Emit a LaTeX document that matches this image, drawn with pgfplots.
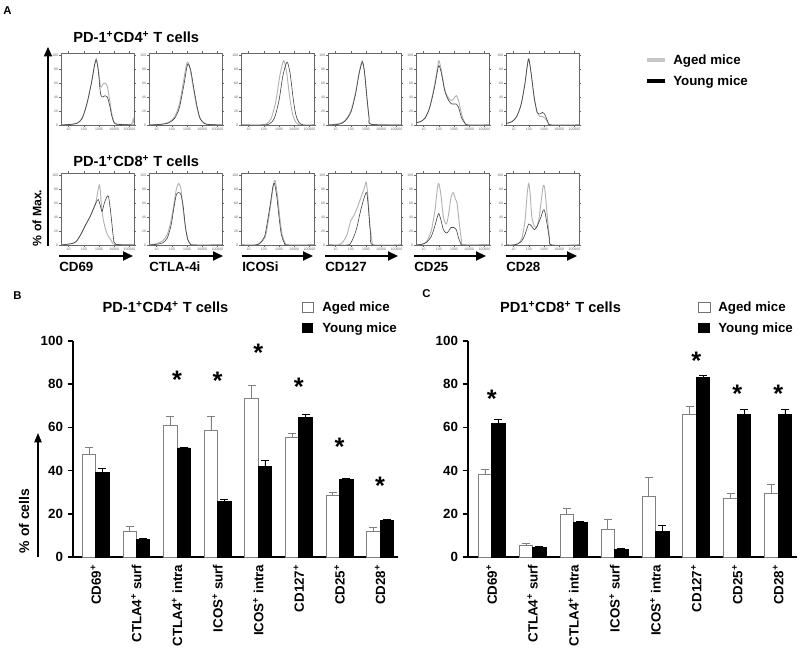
\documentclass[border=0pt]{standalone}
\usepackage{pgfplots}
\pgfplotsset{compat=1.18}
\usepackage{pgfplotstable}
\usepackage{fontspec}
\setmainfont{Liberation Sans}
\usetikzlibrary{arrows.meta}

\tikzset{sstar/.style={anchor=north, inner sep=0pt, font=\fontsize{19}{19}\selectfont\bfseries}}

\pgfplotsset{
  hist/.style={
    scale only axis, width=54.75pt, height=54pt, anchor=south west,
    xmin=0.5, xmax=5.3, ymin=0, ymax=103,
    axis line style={draw=black!60, line width=0.5pt},
    xtick={1,2,3,4,5}, xticklabels={10,100,1000,10000,100000},
    ytick={0,20,40,60,80,100},
    tick style={black!60, line width=0.3pt},
    major tick length=1.5pt, tick align=outside,
    tick label style={font=\fontsize{2.6}{3}\selectfont, text=black!60, inner sep=0.5pt},
    /pgf/number format/assume math mode=true,
    every axis plot/.append style={no marks, smooth, tension=0.45},
  },
  aged/.style={gray!60, line width=0.7pt},
  young/.style={black!75, line width=0.45pt},
  bars/.style={
    scale only axis, anchor=south west, height=162pt,
    ymin=0, ymax=100,
    axis x line*=bottom, axis y line*=left,
    axis line style={line width=1.5pt},
    xtick={0,...,7},
    xticklabels={CD69\textsuperscript{+},CTLA4\textsuperscript{+} surf,CTLA4\textsuperscript{+} intra,ICOS\textsuperscript{+} surf,ICOS\textsuperscript{+} intra,CD127\textsuperscript{+},CD25\textsuperscript{+},CD28\textsuperscript{+}},
    x tick label style={rotate=90, anchor=east, font=\fontsize{10}{12}\selectfont\bfseries, inner sep=1.5pt},
    major x tick style={draw=none},
    ytick={0,20,...,100},
    y tick label style={font=\fontsize{10}{12}\selectfont\bfseries},
    /pgf/number format/assume math mode=true,
    major y tick style={line width=1.3pt, black}, major tick length=4pt, tick align=outside,
    clip=false,
  },
  agedbar/.style={ybar, bar width=0.33, bar shift=0, fill=white, draw=black!50, line width=0.6pt,
    error bars/.cd, y dir=plus, y explicit,
    error bar style={black!50, line width=0.6pt},
    error mark options={rotate=90, black!50, mark size=3pt, line width=0.6pt}},
  youngbar/.style={ybar, bar width=0.33, bar shift=0, fill=black, draw=black, line width=0.6pt,
    error bars/.cd, y dir=plus, y explicit,
    error bar style={black, line width=0.6pt},
    error mark options={rotate=90, black, mark size=3pt, line width=0.6pt}},
}

\pgfplotstableread{
x a ae y ye
0 47.4 3.2 39.0 2.0
1 11.7 2.3 8.0 0.5
2 61.0 4.1 50.5 0.4
3 58.6 6.4 25.6 1.1
4 73.3 6.3 42.0 2.8
5 55.4 1.7 64.7 1.2
6 28.7 1.2 36.0 0.2
7 12.0 1.6 17.0 0.6
}\dataB

\pgfplotstableread{
x a ae y ye
0 38.1 2.3 61.7 1.9
1 5.2 1.0 4.6 0.3
2 19.6 2.8 16.0 0.4
3 12.8 4.5 3.7 0.2
4 27.9 9.1 12.0 2.5
5 65.9 3.7 83.0 1.0
6 27.0 2.3 66.2 2.0
7 29.3 4.3 66.2 2.0
}\dataC

\begin{document}
\begin{tikzpicture}[x=0.75pt,y=0.75pt]
\useasboundingbox (0,0) rectangle (800,649);

% ---------- Panel A ----------
\node[anchor=base west, inner sep=0pt, font=\fontsize{8.5}{10}\selectfont\bfseries] at (3,649-15) {A};
\node[anchor=base west, inner sep=0pt, font=\fontsize{11}{13}\selectfont\bfseries] at (73,649-43) {PD-1\textsuperscript{+}CD4\textsuperscript{+} T cells};
\node[anchor=base west, inner sep=0pt, font=\fontsize{11}{13}\selectfont\bfseries] at (73,649-167) {PD-1\textsuperscript{+}CD8\textsuperscript{+} T cells};

% top row: CD4
\begin{axis}[hist, at={(45.75pt,393pt)}]
\addplot[aged] coordinates {(0.5,0)(1.2,1)(1.6,3)(1.9,10)(2.2,30)(2.5,60)(2.7,85)(2.82,95)(2.95,80)(3.1,55)(3.25,58)(3.4,60)(3.55,55)(3.7,35)(3.85,15)(4.0,4)(4.2,1)(5.1,1)(5.25,9)(5.3,2)};
\addplot[young] coordinates {(0.5,0)(1.2,1)(1.6,3)(1.9,10)(2.2,30)(2.5,60)(2.7,85)(2.82,93)(2.95,78)(3.1,45)(3.25,40)(3.4,42)(3.55,40)(3.7,28)(3.85,12)(4.0,3)(4.2,1)(5.3,0)};
\end{axis}
\begin{axis}[hist, at={(111.75pt,393pt)}]
\addplot[aged] coordinates {(0.5,0)(1.3,1)(1.8,4)(2.2,12)(2.5,30)(2.75,60)(2.95,85)(3.05,90)(3.2,80)(3.4,55)(3.6,30)(3.8,12)(4.0,5)(4.3,1)(5.3,0)};
\addplot[young] coordinates {(0.5,0)(1.3,1)(1.8,3)(2.2,10)(2.5,25)(2.8,58)(3.0,84)(3.1,87)(3.25,78)(3.45,52)(3.65,28)(3.85,10)(4.05,4)(4.3,1)(5.3,0)};
\end{axis}
\begin{axis}[hist, at={(180.75pt,393pt)}]
\addplot[aged] coordinates {(0.5,0)(1.8,0)(2.2,2)(2.5,10)(2.8,35)(3.05,70)(3.3,92)(3.5,75)(3.7,40)(3.9,15)(4.1,4)(4.4,0)(5.3,0)};
\addplot[young] coordinates {(0.5,0)(2.0,0)(2.4,2)(2.7,10)(3.0,35)(3.25,70)(3.52,90)(3.72,75)(3.92,40)(4.1,15)(4.3,4)(4.6,0)(5.3,0)};
\end{axis}
\begin{axis}[hist, at={(246pt,393pt)}]
\addplot[aged] coordinates {(0.5,0)(1.2,2)(1.6,6)(2.0,20)(2.3,45)(2.55,75)(2.75,92)(2.9,75)(3.05,40)(3.2,10)(3.35,1)(5.3,0)};
\addplot[young] coordinates {(0.5,0)(1.2,1)(1.6,5)(2.0,18)(2.3,43)(2.55,74)(2.76,90)(2.9,76)(3.05,42)(3.2,11)(3.35,1)(5.3,0)};
\end{axis}
\begin{axis}[hist, at={(312pt,393pt)}]
\addplot[aged] coordinates {(0.5,3)(0.8,5)(1.1,10)(1.4,25)(1.7,55)(1.9,80)(2.0,92)(2.15,80)(2.4,50)(2.65,38)(2.85,35)(3.0,38)(3.15,42)(3.3,35)(3.5,15)(3.7,4)(3.9,0)(5.3,0)};
\addplot[young] coordinates {(0.5,3)(0.8,5)(1.1,10)(1.4,25)(1.7,52)(1.9,76)(2.0,85)(2.15,76)(2.4,48)(2.65,35)(2.85,30)(3.0,30)(3.15,30)(3.3,25)(3.5,10)(3.7,3)(3.9,0)(5.3,0)};
\end{axis}
\begin{axis}[hist, at={(379.5pt,393pt)}]
\addplot[aged] coordinates {(0.5,2)(0.9,5)(1.2,12)(1.5,30)(1.75,60)(1.9,85)(2.0,95)(2.15,75)(2.35,40)(2.55,18)(2.75,12)(2.9,12)(3.05,10)(3.25,4)(3.45,0)(5.3,0)};
\addplot[young] coordinates {(0.5,2)(0.9,5)(1.2,12)(1.5,30)(1.75,60)(1.9,85)(2.0,94)(2.15,74)(2.35,40)(2.55,18)(2.75,16)(2.9,18)(3.05,15)(3.25,5)(3.45,0)(5.3,0)};
\end{axis}

% bottom row: CD8
\begin{axis}[hist, at={(45.75pt,303pt)}]
\addplot[aged] coordinates {(0.5,0)(1.2,2)(1.5,5)(1.8,15)(2.1,28)(2.4,40)(2.6,50)(2.8,62)(2.95,80)(3.05,85)(3.15,60)(3.25,40)(3.4,25)(3.55,15)(3.7,10)(3.85,5)(4.0,1)(5.3,0)};
\addplot[young] coordinates {(0.5,0)(1.2,2)(1.5,5)(1.8,15)(2.1,28)(2.4,40)(2.6,50)(2.8,60)(2.95,65)(3.1,55)(3.2,48)(3.35,60)(3.5,68)(3.62,70)(3.75,50)(3.85,30)(3.95,10)(4.1,1)(5.3,0)};
\end{axis}
\begin{axis}[hist, at={(111.75pt,303pt)}]
\addplot[aged] coordinates {(0.5,0)(1.0,2)(1.4,6)(1.7,15)(1.95,35)(2.15,60)(2.3,80)(2.45,88)(2.6,80)(2.75,50)(2.9,25)(3.05,8)(3.2,2)(3.4,0)(5.3,0)};
\addplot[young] coordinates {(0.5,0)(1.0,1)(1.4,3)(1.7,10)(1.95,28)(2.15,55)(2.3,72)(2.45,75)(2.6,72)(2.75,55)(2.9,25)(3.05,8)(3.2,2)(3.4,0)(5.3,0)};
\end{axis}
\begin{axis}[hist, at={(180.75pt,303pt)}]
\addplot[aged] coordinates {(0.5,0)(1.5,0)(1.8,3)(2.1,12)(2.3,35)(2.5,65)(2.65,88)(2.75,92)(2.9,70)(3.05,40)(3.2,15)(3.4,3)(3.6,0)(5.3,0)};
\addplot[young] coordinates {(0.5,0)(1.45,0)(1.75,3)(2.05,12)(2.25,35)(2.45,62)(2.6,84)(2.7,88)(2.85,70)(3.0,40)(3.15,15)(3.35,3)(3.55,0)(5.3,0)};
\end{axis}
\begin{axis}[hist, at={(246pt,303pt)}]
\addplot[aged] coordinates {(0.5,0)(1.2,0)(1.5,5)(1.75,15)(2.0,35)(2.2,42)(2.45,55)(2.7,70)(2.9,82)(3.0,90)(3.1,75)(3.25,30)(3.4,5)(3.55,0)(5.3,0)};
\addplot[young] coordinates {(0.5,0)(1.8,0)(2.0,3)(2.2,12)(2.4,25)(2.6,45)(2.8,62)(2.95,72)(3.05,75)(3.15,55)(3.3,15)(3.45,0)(5.3,0)};
\end{axis}
\begin{axis}[hist, at={(312pt,303pt)}]
\addplot[aged] coordinates {(0.5,0)(0.9,1)(1.2,5)(1.5,20)(1.75,50)(1.9,80)(2.0,88)(2.15,70)(2.3,40)(2.5,30)(2.65,45)(2.8,68)(2.95,75)(3.1,65)(3.2,60)(3.35,30)(3.5,5)(3.6,0)(5.3,0)};
\addplot[young] coordinates {(0.5,0)(0.9,1)(1.2,4)(1.5,12)(1.75,28)(1.9,40)(2.0,45)(2.15,35)(2.3,22)(2.5,17)(2.65,20)(2.8,25)(3.0,25)(3.15,22)(3.3,10)(3.45,2)(3.6,0)(5.3,0)};
\end{axis}
\begin{axis}[hist, at={(379.5pt,303pt)}]
\addplot[aged] coordinates {(0.5,0)(1.0,0)(1.3,2)(1.55,10)(1.75,35)(1.9,75)(2.0,88)(2.1,70)(2.2,40)(2.35,28)(2.5,25)(2.65,35)(2.8,60)(2.95,85)(3.05,80)(3.2,45)(3.35,12)(3.5,0)(5.3,0)};
\addplot[young] coordinates {(0.5,0)(1.0,0)(1.3,2)(1.55,6)(1.75,15)(1.9,25)(2.0,30)(2.15,28)(2.35,22)(2.5,25)(2.65,32)(2.8,40)(2.95,50)(3.05,48)(3.2,30)(3.35,10)(3.5,0)(5.3,0)};
\end{axis}

% arrows and labels under histograms
\foreach \xa/\xb/\lab in {59/133/CD69,149/223/CTLA-4i,242/313/ICOSi,325/398/CD127,414/486/CD25,506/577/CD28}{
  \draw[line width=1.5pt, -{Triangle[length=7.5pt,width=6.75pt]}] (\xa,649-256) -- (\xb,649-256);
  \node[anchor=base west, inner sep=0pt, font=\fontsize{10}{12}\selectfont\bfseries] at (\xa,649-272) {\lab};
}
\draw[line width=1.1pt, -{Triangle[length=7pt,width=6pt]}] (48,649-246) -- (48,649-47);
\node[rotate=90, inner sep=0pt, font=\fontsize{9.2}{11}\selectfont\bfseries] at (37,649-218) {\% of Max.};

% legend A
\draw[gray!45, line width=2.5pt] (647,649-60) -- (665,649-60);
\draw[black, line width=2.5pt] (647,649-81) -- (665,649-81);
\node[anchor=base west, inner sep=0pt, font=\fontsize{10}{12}\selectfont\bfseries] at (673,649-65) {Aged mice};
\node[anchor=base west, inner sep=0pt, font=\fontsize{10}{12}\selectfont\bfseries] at (673,649-86) {Young mice};

% ---------- Panel B ----------
\node[anchor=base west, inner sep=0pt, font=\fontsize{8.5}{10}\selectfont\bfseries] at (13,649-300) {B};
\node[anchor=base, inner sep=0pt, font=\fontsize{11}{13}\selectfont\bfseries] at (165.5,649-313) {PD-1\textsuperscript{+}CD4\textsuperscript{+} T cells};
\begin{axis}[bars, at={(54.75pt,69pt)}, width=243.75pt, xmin=-0.56, xmax=7.44]
\addplot[agedbar] table[x expr=\thisrow{x}-0.165, y=a, y error=ae]{\dataB};
\addplot[youngbar] table[x expr=\thisrow{x}+0.165, y=y, y error=ye]{\dataB};
\node[sstar] at (axis cs:2,86.4) {*};
\node[sstar] at (axis cs:3,85.6) {*};
\node[sstar] at (axis cs:4,98.8) {*};
\node[sstar] at (axis cs:5,82.9) {*};
\node[sstar] at (axis cs:6,55.1) {*};
\node[sstar] at (axis cs:7,37.0) {*};
\end{axis}
\draw[line width=0.8pt, -{Triangle[length=7pt,width=5.5pt]}] (38,649-557) -- (38,649-433);
\node[rotate=90, inner sep=0pt, font=\fontsize{10.5}{12}\selectfont\bfseries] at (24,649-521) {\% of cells};
\draw[black!55, line width=0.6pt, fill=white] (302,649-312) rectangle (313,649-302);
\fill[black] (302,649-333) rectangle (313,649-323);
\node[anchor=base west, inner sep=0pt, font=\fontsize{10}{12}\selectfont\bfseries] at (322,649-312) {Aged mice};
\node[anchor=base west, inner sep=0pt, font=\fontsize{10}{12}\selectfont\bfseries] at (322,649-333) {Young mice};

% ---------- Panel C ----------
\node[anchor=base west, inner sep=0pt, font=\fontsize{8.5}{10}\selectfont\bfseries] at (422,649-298) {C};
\node[anchor=base, inner sep=0pt, font=\fontsize{11}{13}\selectfont\bfseries] at (560.5,649-313) {PD1\textsuperscript{+}CD8\textsuperscript{+} T cells};
\begin{axis}[bars, at={(351pt,69pt)}, width=246.75pt, xmin=-0.58, xmax=7.46]
\addplot[agedbar] table[x expr=\thisrow{x}-0.165, y=a, y error=ae]{\dataC};
\addplot[youngbar] table[x expr=\thisrow{x}+0.165, y=y, y error=ye]{\dataC};
\node[sstar] at (axis cs:0,77.2) {*};
\node[sstar] at (axis cs:5,94.9) {*};
\node[sstar] at (axis cs:6,79.5) {*};
\node[sstar] at (axis cs:7,79.5) {*};
\end{axis}
\draw[black!55, line width=0.6pt, fill=white] (698,649-312) rectangle (710,649-302);
\fill[black] (698,649-333) rectangle (710,649-323);
\node[anchor=base west, inner sep=0pt, font=\fontsize{10}{12}\selectfont\bfseries] at (718,649-312) {Aged mice};
\node[anchor=base west, inner sep=0pt, font=\fontsize{10}{12}\selectfont\bfseries] at (718,649-333) {Young mice};
\end{tikzpicture}
\end{document}
